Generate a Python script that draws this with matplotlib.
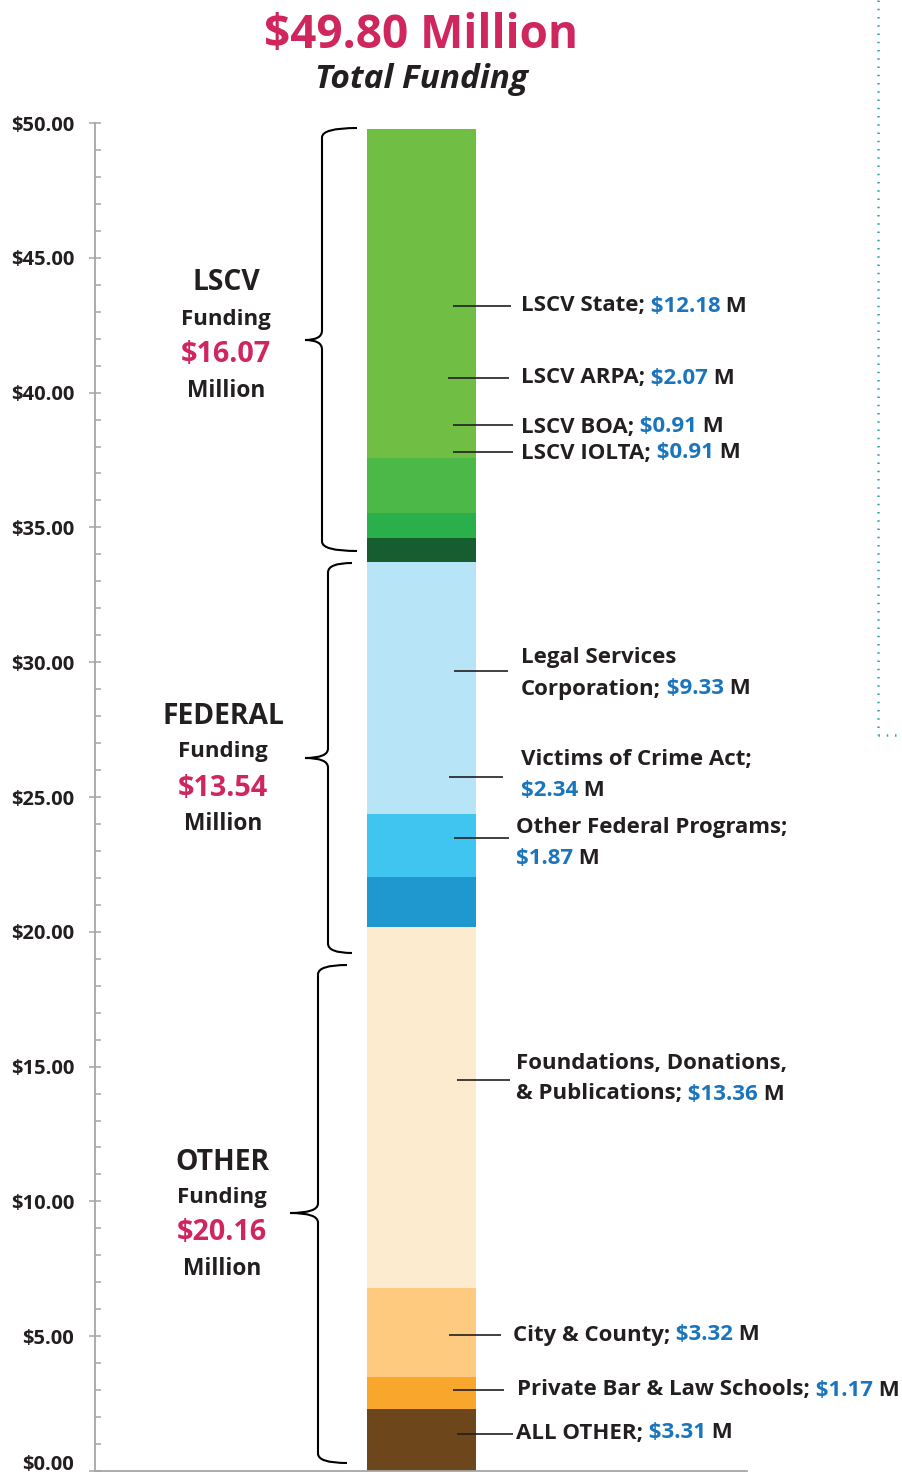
import numpy as np
import matplotlib
matplotlib.use("Agg")
import matplotlib.pyplot as plt
from matplotlib.path import Path
from matplotlib.patches import PathPatch
from matplotlib.lines import Line2D
from matplotlib.ticker import MultipleLocator, FuncFormatter

plt.rcParams['font.family'] = ['Open Sans', 'DejaVu Sans']
plt.rcParams['font.weight'] = 'bold'

DARK = '#231F20'
BLUE = '#1B75BC'
PINK = '#D0265E'

# segments from bottom to top (values in $ millions)
SEGMENTS = ['ALL OTHER', 'Private Bar & Law Schools', 'City & County',
            'Foundations, Donations, & Publications', 'Other Federal Programs',
            'Victims of Crime Act', 'Legal Services Corporation',
            'LSCV IOLTA', 'LSCV BOA', 'LSCV ARPA', 'LSCV State']
VALUES = [2.31, 1.17, 3.32, 13.36, 1.87, 2.34, 9.33, 0.91, 0.91, 2.07, 12.18]
COLORS = ['#6E461B', '#F9A62C', '#FDCA80', '#FDEBD0', '#1E98CF', '#40C4F0',
          '#B7E4F7', '#165E2F', '#2AB04A', '#4CB848', '#70BE44']

# value text as printed next to each segment
LABEL_VALUES = ['$3.31', '$1.17', '$3.32', '$13.36', '$1.87', '$2.34', '$9.33',
                '$0.91', '$0.91', '$2.07', '$12.18']

GROUPS = ['LSCV', 'FEDERAL', 'OTHER']
GROUP_TOTALS = ['$16.07', '$13.54', '$20.16']

TOTAL = '$49.80 Million'

LBL = 16  # label font size
TICK = 14.5

# figure in pixel-like units: x data = pixel column
fig = plt.figure(figsize=(9.03, 14.8), dpi=100)
y0_px, y50_px = 1471, 123
ax = fig.add_axes([95 / 903, (1480 - y0_px) / 1480, (747 - 95) / 903, (y0_px - y50_px) / 1480])
ax.set_xlim(95, 747)
ax.set_ylim(0, 50)

def py(p):
    # pixel row -> data value
    return (y0_px - p) / ((y0_px - y50_px) / 50)

# stacked bar
bottoms = np.concatenate([[0], np.cumsum(VALUES)[:-1]])
ax.bar([421.5] * len(VALUES), VALUES, bottom=bottoms, width=109, color=COLORS, linewidth=0)

# axes styling
for s in ['top', 'right']:
    ax.spines[s].set_visible(False)
for s in ['left', 'bottom']:
    ax.spines[s].set_color('#A6A6A6')
    ax.spines[s].set_linewidth(1.3)
ax.spines['left'].set_bounds(0, 50)
ax.set_xticks([])
ax.yaxis.set_major_locator(MultipleLocator(5))
ax.yaxis.set_minor_locator(MultipleLocator(1))
# the $0.00 label is drawn by hand a little higher so it stays inside the figure
ax.yaxis.set_major_formatter(FuncFormatter(lambda v, p: f'${v:.2f}' if v > 0.01 else ''))
ax.tick_params(axis='y', which='major', direction='inout', length=9, width=1.1,
               color='#A6A6A6', labelsize=TICK, labelcolor=DARK, pad=10.5)
ax.tick_params(axis='y', which='minor', direction='in', length=4, width=1.1, color='#A6A6A6')
for lab in ax.get_yticklabels():
    lab.set_fontweight('bold')
ax.text(74, py(1465), '$0.00', ha='right', va='center', fontsize=TICK, color=DARK,
        fontweight='bold', clip_on=False)


def rich(x, y, parts, size=LBL):
    t = ax.text(x, y, parts[0][0], color=parts[0][1], ha='left', va='center',
                fontsize=size, fontweight='bold')
    for s, c in parts[1:]:
        t = ax.annotate(s, xy=(1, 0), xycoords=t, ha='left', va='bottom',
                        color=c, fontsize=size, fontweight='bold')


# labels: (segment index, leader y px, leader x0, leader x1, text x, [line rows])
LABELS = [
    (10, 306, 453, 511, 521, [306]),
    (9, 378, 448, 509, 521, [378]),
    (8, 425, 453, 513, 521, [427]),
    (7, 452, 453, 513, 521, [453]),
    (6, 671, 454, 508, 521, [658, 689]),
    (5, 777, 449, 503, 521, [759, 790]),
    (4, 838, 454, 509, 516, [828, 859]),
    (3, 1080, 457, 510, 516, [1063, 1094]),
    (2, 1335, 449, 501, 513, [1335]),
    (1, 1390, 453, 504, 517, [1390]),
    (0, 1434, 457, 513, 516, [1433]),
]
TWO_LINES = {6: ('Legal Services', 'Corporation;'), 5: ('Victims of Crime Act;', ''),
             4: ('Other Federal Programs;', ''),
             3: ('Foundations, Donations,', '& Publications;')}

for idx, ly, lx0, lx1, tx, rows in LABELS:
    ax.plot([lx0, lx1], [py(ly)] * 2, color=DARK, lw=1.2, solid_capstyle='butt')
    val = LABEL_VALUES[idx]
    if len(rows) == 1:
        rich(tx, py(rows[0]), [(SEGMENTS[idx] + ';', DARK), (' ' + val, BLUE), (' M', DARK)])
    else:
        l1, l2 = TWO_LINES[idx]
        ax.text(tx, py(rows[0]), l1, color=DARK, ha='left', va='center',
                fontsize=LBL, fontweight='bold')
        if l2:
            rich(tx, py(rows[1]), [(l2, DARK), (' ' + val, BLUE), (' M', DARK)])
        else:
            rich(tx, py(rows[1]), [(val, BLUE), (' M', DARK)])


# curly braces
def brace(xv, xt, xe, top, bot, tip, d=0.35):
    verts = [(xe, top), (xv, top), (xv, top - d),
             (xv, tip + d),
             (xv, tip), (xt, tip),
             (xv, tip), (xv, tip - d),
             (xv, bot + d),
             (xv, bot), (xe, bot)]
    codes = [Path.MOVETO, Path.CURVE3, Path.CURVE3,
             Path.LINETO,
             Path.CURVE3, Path.CURVE3,
             Path.CURVE3, Path.CURVE3,
             Path.LINETO,
             Path.CURVE3, Path.CURVE3]
    ax.add_patch(PathPatch(Path(verts, codes), fill=False, edgecolor='black', lw=1.5,
                           clip_on=False))

brace(322, 305, 357, py(128), py(551), py(340))
brace(328, 305, 352, py(563), py(953), py(758))
brace(318, 290, 347, py(965), py(1463), py(1213))

# group labels
GROUP_ROWS = [(226, [283, 319, 355, 391]), (223, [716, 752, 788, 824]),
              (222, [1162, 1197, 1233, 1269])]
for g, tot, (cx, rows) in zip(GROUPS, GROUP_TOTALS, GROUP_ROWS):
    ax.text(cx, py(rows[0]), g, ha='center', va='center', fontsize=20.3, color=DARK, fontweight='bold')
    ax.text(cx, py(rows[1]), 'Funding', ha='center', va='center', fontsize=16, color=DARK, fontweight='bold')
    ax.text(cx, py(rows[2]), tot, ha='center', va='center', fontsize=20.7, color=PINK, fontweight='bold')
    ax.text(cx, py(rows[3]), 'Million', ha='center', va='center', fontsize=16.4, color=DARK, fontweight='bold')

# title
fig.text(421 / 903, 1 - 36 / 1480, TOTAL, ha='center', va='center', fontsize=33,
         color=PINK, fontweight='bold')
fig.text(421 / 903, 1 - 80 / 1480, 'Total Funding', ha='center', va='center', fontsize=24,
         color=DARK, fontweight='bold', style='italic')

# dotted teal divider
fig.add_artist(Line2D([878 / 903, 878 / 903], [1, 1 - 735 / 1480], transform=fig.transFigure,
                      color='#2AABB8', lw=1.8, linestyle=(0, (0.6, 2.7))))
fig.add_artist(Line2D([878 / 903, 902 / 903], [1 - 735 / 1480] * 2, transform=fig.transFigure,
                      color='#2AABB8', lw=1.8, linestyle=(0, (0.6, 2.7))))

fig.savefig('out.png', dpi=100)
